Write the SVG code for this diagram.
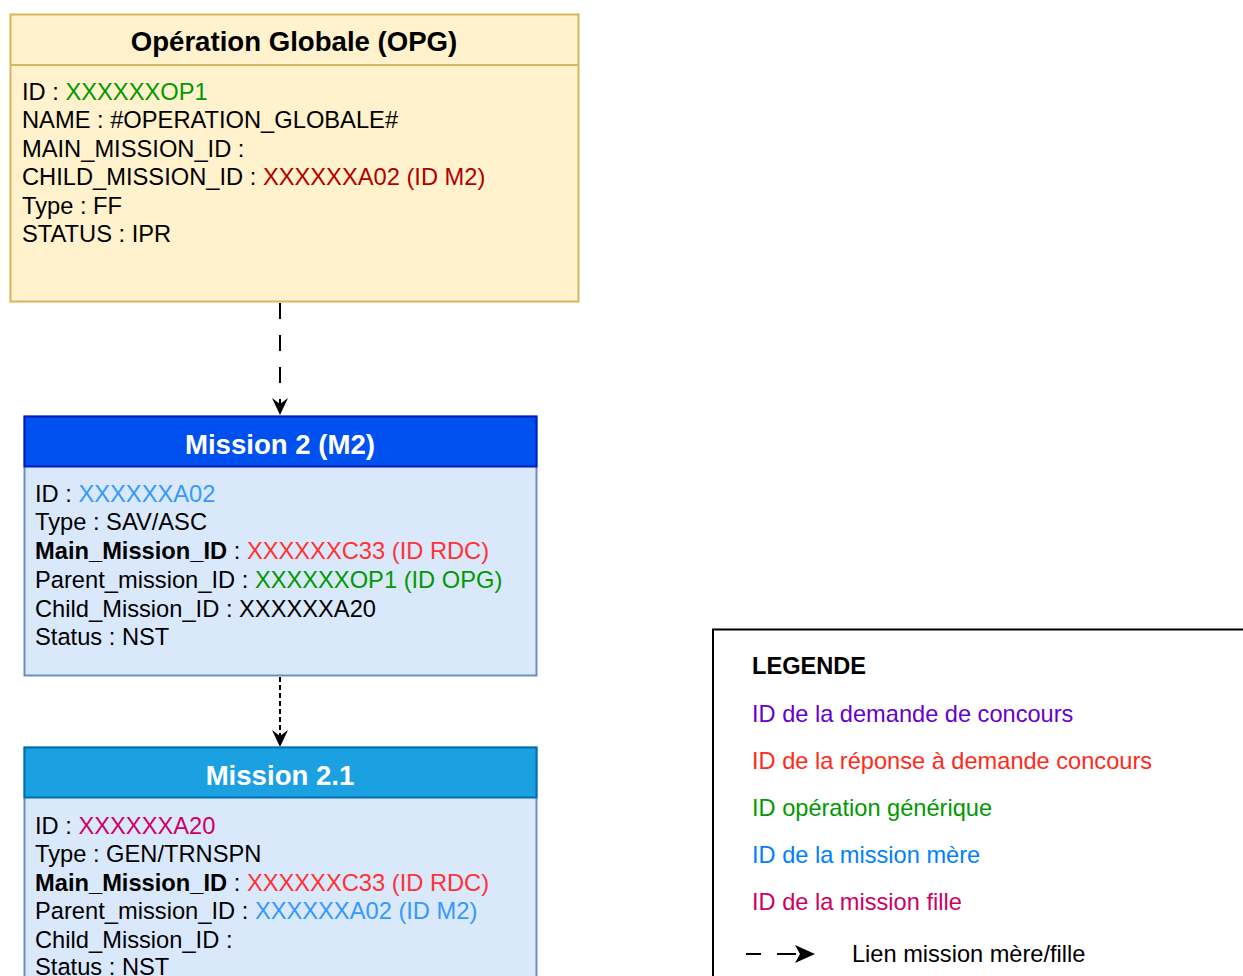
<svg xmlns="http://www.w3.org/2000/svg" width="1243" height="976" viewBox="0 0 1243 976">
<style>
.t{font-family:"Liberation Sans",Arial,sans-serif;font-size:23.7px;fill:#000}
.h{font-family:"Liberation Sans",Arial,sans-serif;font-size:27.6px;font-weight:bold;text-anchor:middle}
.b{font-weight:bold}
.lg{font-family:"Liberation Sans",Arial,sans-serif;font-size:23.6px}
.green{fill:#009900}.dred{fill:#B20000}.blue{fill:#3399FF}.red{fill:#FF3333}.pink{fill:#CC0066}
.conn{stroke:#000;stroke-width:2;fill:none}
.ah{fill:#000}
</style>
<rect width="1243" height="976" fill="#fff"/>
<g id="connectors">
<path class="conn" d="M280,303 V404" stroke-dasharray="16 16"/>
<path class="ah" d="M280,415 L272,398 L280,404 L288,398 Z"/>
<path class="conn" d="M280,677 V736" stroke-dasharray="5 3"/>
<path class="ah" d="M280,747 L272,730 L280,736 L288,730 Z"/>
</g>
<g id="opg">
<rect x="10.5" y="14.5" width="568" height="287" fill="#FFF2CC" stroke="#D6B656" stroke-width="2"/>
<line x1="10.5" y1="65" x2="578.5" y2="65" stroke="#D6B656" stroke-width="2"/>
<text class="h" x="294" y="50.5" fill="#000">Opération Globale (OPG)</text>
<text class="t" x="22" y="99.5">ID : <tspan class="green">XXXXXXOP1</tspan></text>
<text class="t" x="22" y="128">NAME : #OPERATION_GLOBALE#</text>
<text class="t" x="22" y="156.5">MAIN_MISSION_ID :</text>
<text class="t" x="22" y="185">CHILD_MISSION_ID : <tspan class="dred">XXXXXXA02 (ID M2)</tspan></text>
<text class="t" x="22" y="214">Type : FF</text>
<text class="t" x="22" y="242">STATUS : IPR</text>
</g>
<g id="m2">
<rect x="24.5" y="416.5" width="512" height="259" fill="#DAE8FC" stroke="#6C8EBF" stroke-width="2"/>
<rect x="24.5" y="416.5" width="512" height="50" fill="#0050EF" stroke="#001DBC" stroke-width="2"/>
<text class="h" x="280" y="454" fill="#fff">Mission 2 (M2)</text>
<text class="t" x="35" y="501.5">ID : <tspan class="blue">XXXXXXA02</tspan></text>
<text class="t" x="35" y="530">Type : SAV/ASC</text>
<text class="t" x="35" y="559"><tspan class="b">Main_Mission_ID</tspan> : <tspan class="red">XXXXXXC33 (ID RDC)</tspan></text>
<text class="t" x="35" y="587.5">Parent_mission_ID : <tspan class="green">XXXXXXOP1 (ID OPG)</tspan></text>
<text class="t" x="35" y="616.5">Child_Mission_ID : XXXXXXA20</text>
<text class="t" x="35" y="644.5">Status : NST</text>
</g>
<g id="m21">
<rect x="24.5" y="747.5" width="512" height="240" fill="#DAE8FC" stroke="#6C8EBF" stroke-width="2"/>
<rect x="24.5" y="747.5" width="512" height="50" fill="#1BA1E2" stroke="#006EAF" stroke-width="2"/>
<text class="h" x="280" y="785" fill="#fff">Mission 2.1</text>
<text class="t" x="35" y="833.5">ID : <tspan class="pink">XXXXXXA20</tspan></text>
<text class="t" x="35" y="862">Type : GEN/TRNSPN</text>
<text class="t" x="35" y="890.8"><tspan class="b">Main_Mission_ID</tspan> : <tspan class="red">XXXXXXC33 (ID RDC)</tspan></text>
<text class="t" x="35" y="919">Parent_mission_ID : <tspan class="blue">XXXXXXA02 (ID M2)</tspan></text>
<text class="t" x="35" y="948">Child_Mission_ID :</text>
<text class="t" x="35" y="974.5">Status : NST</text>
</g>
<g id="legend">
<rect x="713" y="629.5" width="560" height="400" fill="#fff" stroke="#000" stroke-width="2"/>
<text class="lg b" x="752" y="673.5">LEGENDE</text>
<text class="lg" x="752" y="721.5" fill="#6600CC">ID de la demande de concours</text>
<text class="lg" x="752" y="768.5" fill="#FF2A1A">ID de la réponse à demande concours</text>
<text class="lg" x="752" y="815.5" fill="#009900">ID opération générique</text>
<text class="lg" x="752" y="862.5" fill="#007FFF">ID de la mission mère</text>
<text class="lg" x="752" y="909.5" fill="#CC0066">ID de la mission fille</text>
<path d="M746,954 H761 M777,954 H796" stroke="#000" stroke-width="2"/>
<path d="M795,945 L815,954 L795,963 L800,954 Z" fill="#000"/>
<text class="lg" x="852" y="961.5" fill="#000">Lien mission mère/fille</text>
</g>
</svg>
